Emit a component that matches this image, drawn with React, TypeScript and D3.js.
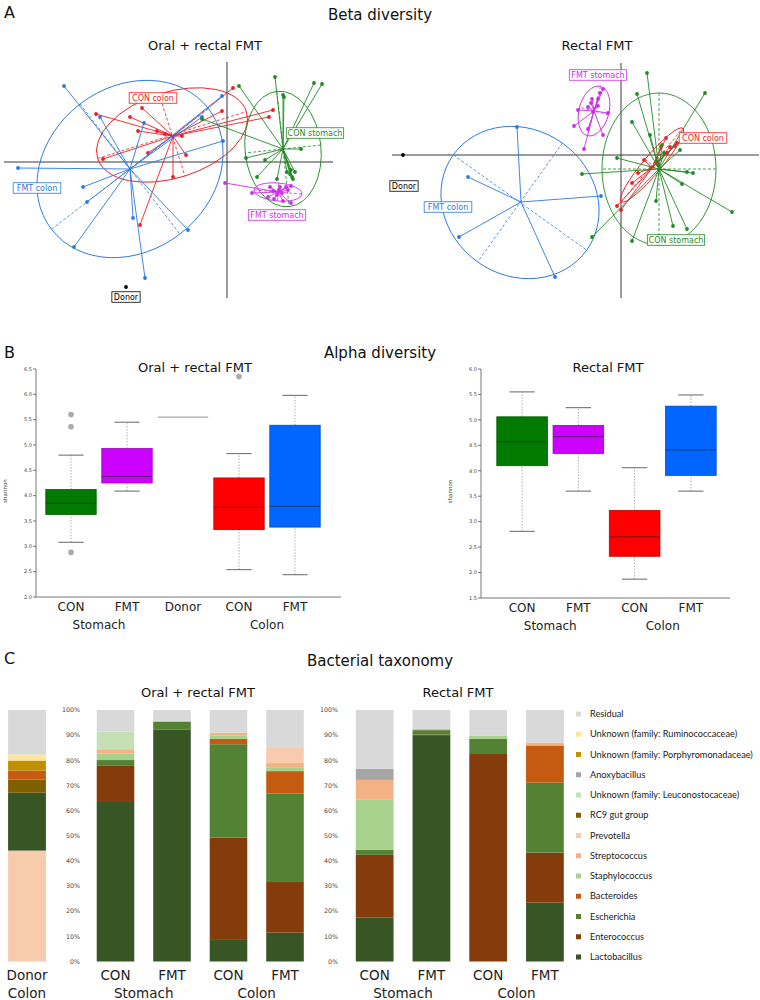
import React from 'react';
import * as d3 from 'd3';

const FONT = '"DejaVu Sans", Verdana, sans-serif';
const LEGEND_FONT = 'Lato, "Open Sans", sans-serif';

type Pt = [number, number];

// ---------------- Panel A: Beta diversity (ordination coordinates) ----------------
const groupNames = ['CON colon', 'FMT colon', 'CON stomach', 'FMT stomach'];
const groupColors = ['#ee1d23', '#2b78e4', '#1f8b24', '#c92fe8'];

// Oral + rectal FMT
const oralXDomain = [-2.23, 1.06];
const oralYDomain = [-1.36, 1.0];
const oralConColonPts: Pt[] = [[0.06, 0.74], [-0.05, 0.51], [0.46, 0.52], [0.42, 0.45], [-1.31, 0.48], [-0.85, 0.54], [-0.97, 0.45], [-0.89, 0.31], [-0.70, 0.31], [-0.62, 0.28], [-0.45, 0.26], [-1.24, 0.03], [-0.79, 0.09], [-0.41, 0.07], [-0.54, -0.15], [-0.87, -0.63]];
const oralFmtColonPts: Pt[] = [[-1.63, 0.76], [-1.27, 0.45], [-0.83, 0.39], [-2.09, -0.06], [-1.44, -0.25], [-1.40, -0.40], [-1.53, -0.85], [-0.94, -0.56], [-0.82, -1.16], [-0.39, -0.68], [-0.05, 0.66], [-0.25, 0.45], [-0.04, 0.21]];
const oralConStomachPts: Pt[] = [[0.48, 0.85], [0.12, 0.76], [0.87, 0.79], [0.95, 0.78], [0.56, 0.67], [0.57, 0.65], [0.74, 0.13], [0.19, 0.04], [0.38, 0.02], [0.30, -0.15], [0.50, -0.17], [0.60, -0.10], [0.63, -0.12], [0.65, -0.15], [0.66, -0.17], [0.68, -0.10], [0.64, -0.08], [-0.25, 0.43]];
const oralFmtStomachPts: Pt[] = [[-0.02, -0.21], [0.25, -0.31], [0.43, -0.25], [0.46, -0.29], [0.53, -0.25], [0.59, -0.25], [0.64, -0.24], [0.61, -0.28], [0.55, -0.31], [0.50, -0.33], [0.41, -0.35], [0.47, -0.37], [0.56, -0.39], [0.64, -0.41], [0.52, -0.28]];
const oralCentres: Pt[] = [[-0.54, 0.26], [-0.97, -0.07], [0.56, 0.13], [0.51, -0.30]];
// ellipse: cx, cy, semi-axis a, semi-axis b, angle (deg)
const oralEllipses = [[-0.55, 0.27, 0.78, 0.43, -17.5], [-0.97, -0.07, 0.99, 0.82, -37.5], [0.56, 0.13, 0.58, 0.38, 84], [0.51, -0.30, 0.24, 0.09, 5]];
const oralLabels: Pt[] = [[-0.74, 0.64], [-1.90, -0.26], [0.88, 0.29], [0.50, -0.53]];
const oralDonor: Pt = [-1.01, -1.25];
const oralDonorLabel: Pt = [-1.01, -1.35];

// Rectal FMT
const rectXDomain = [-2.29, 1.38];
const rectYDomain = [-1.43, 0.92];
const rectConColonPts: Pt[] = [[0.45, 0.17], [0.56, 0.12], [0.40, 0.08], [0.49, 0.08], [0.46, 0.02], [0.54, 0.09], [0.23, -0.05], [0.30, -0.13], [0.17, -0.18], [0.11, -0.28], [-0.04, -0.51], [0.00, -0.55], [0.36, -0.07]];
const rectFmtColonPts: Pt[] = [[-1.04, 0.28], [-1.53, -0.22], [-0.20, -0.41], [-1.62, -0.82], [-0.66, -1.22]];
const rectConStomachPts: Pt[] = [[0.26, 0.82], [0.84, 0.62], [0.16, 0.61], [0.11, 0.33], [-0.04, -0.03], [0.29, 0.20], [-0.39, -0.19], [-0.29, -0.82], [0.11, -0.86], [0.35, -0.46], [0.52, -0.71], [0.66, -0.74], [0.61, -0.29], [0.66, -0.17], [0.72, -0.18], [1.11, -0.57], [0.59, 0.05], [0.43, 0.02], [0.41, 0.10], [0.37, -0.10]];
const rectFmtStomachPts: Pt[] = [[-0.18, 0.66], [-0.21, 0.62], [-0.23, 0.56], [-0.29, 0.56], [-0.30, 0.52], [-0.33, 0.48], [-0.43, 0.45], [-0.13, 0.42], [-0.28, 0.43], [-0.47, 0.29], [-0.33, 0.26], [-0.18, 0.20], [-0.37, 0.06], [-0.23, 0.49]];
const rectCentres: Pt[] = [[0.31, -0.13], [-1.00, -0.47], [0.38, -0.14], [-0.27, 0.44]];
const rectEllipses = [[0.31, -0.10, 0.48, 0.09, -50], [-1.01, -0.475, 0.82, 0.73, 35.5], [0.38, -0.14, 0.76, 0.57, 90], [-0.27, 0.44, 0.255, 0.15, 105]];
const rectLabels: Pt[] = [[0.82, 0.17], [-1.73, -0.52], [0.55, -0.85], [-0.23, 0.80]];
const rectDonor: Pt = [-2.18, 0.0];
const rectDonorLabel: Pt = [-2.17, -0.31];

// ---------------- Panel B: Alpha diversity (shannon) ----------------
const boxColors = ['#007a00', '#cc00ff', '#888888', '#ff0000', '#0066ff'];
const oralBoxCats = ['CON', 'FMT', 'Donor', 'CON', 'FMT'];
// [whiskerLow, q1, median, q3, whiskerHigh]
const oralBoxStats = [[3.08, 3.63, 3.85, 4.12, 4.80], [4.09, 4.25, 4.38, 4.93, 5.45], [5.55, 5.55, 5.55, 5.55, 5.55], [2.54, 3.33, 3.77, 4.35, 4.83], [2.44, 3.38, 3.79, 5.39, 5.98]];
const oralOutliers = [[5.60, 5.36, 2.88], [], [], [6.35], []];
const oralBoxTicks = [2.0, 2.5, 3.0, 3.5, 4.0, 4.5, 5.0, 5.5, 6.0, 6.5];
const oralBoxGroups = ['Stomach', 'Colon'];
const oralBoxGroupSpans = [[0, 1], [3, 4]];

const rectBoxCats = ['CON', 'FMT', 'CON', 'FMT'];
const rectBoxColors = ['#007a00', '#cc00ff', '#ff0000', '#0066ff'];
const rectBoxStats = [[2.81, 4.10, 4.57, 5.06, 5.55], [3.60, 4.34, 4.67, 4.89, 5.24], [1.87, 2.32, 2.70, 3.22, 4.06], [3.60, 3.91, 4.41, 5.27, 5.49]];
const rectOutliers: number[][] = [[], [], [], []];
const rectBoxTicks = [1.5, 2.0, 2.5, 3.0, 3.5, 4.0, 4.5, 5.0, 5.5, 6.0];
const rectBoxGroups = ['Stomach', 'Colon'];
const rectBoxGroupSpans = [[0, 1], [2, 3]];

// ---------------- Panel C: Bacterial taxonomy ----------------
const taxa = ['Lactobacillus', 'Enterococcus', 'Escherichia', 'Bacteroides', 'Staphylococcus', 'Streptococcus', 'Prevotella', 'RC9 gut group', 'Unknown (family: Leuconostocaceae)', 'Anoxybacillus', 'Unknown (family: Porphyromonadaceae)', 'Unknown (family: Ruminococcaceae)', 'Residual'];
const taxaColors = ['#375623', '#843c0c', '#548235', '#c55a11', '#a9d18e', '#f4b183', '#f8cbad', '#7f6000', '#c5e0b4', '#a6a6a6', '#bf9000', '#ffe699', '#d9d9d9'];
const defaultOrder = [0, 1, 2, 3, 4, 5, 6, 7, 8, 9, 10, 11, 12];
const donorOrder = [6, 0, 7, 3, 10, 11, 12];
const donorColon = [23.0, 0, 0, 3.6, 0, 0, 44.1, 5.2, 0, 0, 4.0, 2.4, 17.7];
const oralConStomach = [63.8, 14.2, 2.1, 0, 2.6, 1.7, 0, 0, 7.0, 0, 0, 0, 8.6];
const oralFmtStomach = [92.3, 0, 3.0, 0, 0, 0.4, 0, 0, 0, 0, 0, 0, 4.3];
const oralConColon = [8.9, 40.4, 37.1, 2.1, 1.3, 1.2, 0, 0, 0, 0, 0, 0, 9.0];
const oralFmtColon = [11.5, 20.1, 35.2, 8.9, 1.3, 1.9, 6.0, 0, 0, 0, 0, 0, 15.1];
const rectConStomach = [17.5, 24.9, 2.0, 0, 19.9, 7.9, 0, 0, 0, 4.4, 0, 0, 23.4];
const rectFmtStomach = [89.7, 0.5, 1.8, 0, 0, 0.5, 0, 0, 0, 0, 0, 0, 7.5];
const rectConColon = [0, 82.5, 6.0, 0, 1.2, 0, 0, 0, 0, 0, 0, 0, 10.3];
const rectFmtColon = [23.4, 19.9, 27.8, 14.8, 0, 1.1, 0, 0, 0, 0, 0, 0, 13.0];
const barCats = ['CON', 'FMT', 'CON', 'FMT'];
const barGroups = ['Stomach', 'Colon'];
const pctTicks = [0, 10, 20, 30, 40, 50, 60, 70, 80, 90, 100];

// ---------------- Components ----------------
function LabelBox({ x, y, text, color }: { x: number; y: number; text: string; color: string }) {
  const w = text.length * 4.85 + 4;
  const h = 10.5;
  return (
    <g>
      <rect x={x - w / 2} y={y - h / 2} width={w} height={h} fill="#fff" stroke={color} strokeWidth={0.8} />
      <text x={x} y={y + 3} textAnchor="middle" fontSize={8} fill={color} fontFamily={FONT}>{text}</text>
    </g>
  );
}

function Ordination(props: any) {
  const { xDomain, yDomain, xRange, yRange, pts, centres, ellipses, labels, donor, donorLabel } = props;
  const x = d3.scaleLinear().domain(xDomain).range(xRange);
  const y = d3.scaleLinear().domain(yDomain).range(yRange);
  const k = Math.abs(x(1) - x(0));
  const x0 = x(0), y0 = y(0);
  return (
    <g>
      <line x1={xRange[0]} x2={xRange[1]} y1={y0} y2={y0} stroke="#222" strokeWidth={0.9} />
      <line x1={x0} x2={x0} y1={yRange[0]} y2={yRange[1]} stroke="#222" strokeWidth={0.9} />
      {groupNames.map((name, gi) => {
        const [ecx, ecy, a, b, ang] = ellipses[gi];
        const cx = x(ecx), cy = y(ecy);
        const t = (ang * Math.PI) / 180;
        const ax = [Math.cos(t) * a * k, Math.sin(t) * a * k];
        const bx = [-Math.sin(t) * b * k, Math.cos(t) * b * k];
        const c = [x(centres[gi][0]), y(centres[gi][1])];
        const col = groupColors[gi];
        return (
          <g key={name}>
            <ellipse cx={cx} cy={cy} rx={a * k} ry={b * k} transform={`rotate(${ang} ${cx} ${cy})`} fill="none" stroke={col} strokeWidth={0.9} />
            <line x1={cx - ax[0]} y1={cy - ax[1]} x2={cx + ax[0]} y2={cy + ax[1]} stroke={col} strokeWidth={0.8} strokeDasharray="3,2" />
            <line x1={cx - bx[0]} y1={cy - bx[1]} x2={cx + bx[0]} y2={cy + bx[1]} stroke={col} strokeWidth={0.8} strokeDasharray="3,2" />
            {pts[gi].map((p: Pt, i: number) => (
              <line key={'l' + i} x1={c[0]} y1={c[1]} x2={x(p[0])} y2={y(p[1])} stroke={col} strokeWidth={0.9} />
            ))}
            {pts[gi].map((p: Pt, i: number) => (
              <circle key={'c' + i} cx={x(p[0])} cy={y(p[1])} r={1.9} fill={col} />
            ))}
          </g>
        );
      })}
      <circle cx={x(donor[0])} cy={y(donor[1])} r={1.9} fill="#000" />
      {groupNames.map((name, gi) => (
        <LabelBox key={'lb' + gi} x={x(labels[gi][0])} y={y(labels[gi][1])} text={name} color={groupColors[gi]} />
      ))}
      <LabelBox x={x(donorLabel[0])} y={y(donorLabel[1])} text="Donor" color="#000" />
    </g>
  );
}

function BoxPlot(props: any) {
  const { cats, stats, outliers, colors, yDomain, ticks, axisX, axisRight, bandRange, yRange, groups, spans, ylabX } = props;
  const y = d3.scaleLinear().domain(yDomain).range(yRange);
  const xb = d3.scaleBand<number>().domain(d3.range(cats.length)).range(bandRange);
  const bw = xb.bandwidth() * 0.9;
  const capW = bw * 0.5;
  const cx = (i: number) => (xb(i) as number) + xb.bandwidth() / 2;
  return (
    <g fontFamily={FONT}>
      <line x1={axisX} x2={axisX} y1={y(yDomain[1])} y2={y(yDomain[0])} stroke="#555" strokeWidth={0.8} />
      <line x1={axisX} x2={axisRight} y1={y(yDomain[0])} y2={y(yDomain[0])} stroke="#555" strokeWidth={0.8} />
      {ticks.map((t: number) => (
        <g key={t}>
          <line x1={axisX - 3} x2={axisX} y1={y(t)} y2={y(t)} stroke="#555" strokeWidth={0.8} />
          <text x={axisX - 4} y={y(t) + 1.8} textAnchor="end" fontSize={5} fill="#444">{d3.format('.1f')(t)}</text>
        </g>
      ))}
      <text transform={`translate(${ylabX},${(yRange[0] + yRange[1]) / 2 + 8}) rotate(-90)`} textAnchor="middle" fontSize={5.5} fill="#444">shannon</text>
      {stats.map((s: number[], i: number) => {
        const c = cx(i);
        if (s[1] === s[3]) {
          return <line key={i} x1={c - bw / 2} x2={c + bw / 2} y1={y(s[2])} y2={y(s[2])} stroke={colors[i]} strokeWidth={0.9} />;
        }
        const col = d3.color(colors[i]) as any;
        return (
          <g key={i}>
            <line x1={c} x2={c} y1={y(s[0])} y2={y(s[1])} stroke="#999" strokeWidth={0.8} strokeDasharray="1.5,1.5" />
            <line x1={c} x2={c} y1={y(s[3])} y2={y(s[4])} stroke="#999" strokeWidth={0.8} strokeDasharray="1.5,1.5" />
            <line x1={c - capW / 2} x2={c + capW / 2} y1={y(s[0])} y2={y(s[0])} stroke="#555" strokeWidth={0.9} />
            <line x1={c - capW / 2} x2={c + capW / 2} y1={y(s[4])} y2={y(s[4])} stroke="#555" strokeWidth={0.9} />
            <rect x={c - bw / 2} y={y(s[3])} width={bw} height={y(s[1]) - y(s[3])} fill={colors[i]} stroke={col.darker(0.8).toString()} strokeWidth={0.8} />
            <line x1={c - bw / 2} x2={c + bw / 2} y1={y(s[2])} y2={y(s[2])} stroke="#222" strokeWidth={0.8} opacity={0.8} />
            {outliers[i].map((o: number, j: number) => (
              <circle key={j} cx={c} cy={y(o)} r={2.8} fill="#aaa" />
            ))}
          </g>
        );
      })}
      {cats.map((c: string, i: number) => (
        <text key={i} x={cx(i)} y={y(yDomain[0]) + 14} textAnchor="middle" fontSize={12} fill="#222">{c}</text>
      ))}
      {groups.map((g: string, i: number) => (
        <text key={g} x={(cx(spans[i][0]) + cx(spans[i][1])) / 2} y={y(yDomain[0]) + 32} textAnchor="middle" fontSize={12} fill="#222">{g}</text>
      ))}
    </g>
  );
}

function Stacks({ samples, bandRange, y, barFrac, order }: any) {
  const xb = d3.scaleBand<number>().domain(d3.range(samples.length)).range(bandRange);
  const bw = xb.bandwidth() * barFrac;
  const ord: number[] = order || defaultOrder;
  return (
    <g>
      {samples.map((vals: number[], i: number) => {
        const ordered = ord.map((j) => vals[j]);
        const cum = [0, ...Array.from(d3.cumsum(ordered))];
        const cx = (xb(i) as number) + xb.bandwidth() / 2;
        return (
          <g key={i}>
            {ord.map((j, k) => vals[j] > 0 ? (
              <rect key={j} x={cx - bw / 2} width={bw} y={y(cum[k + 1])} height={y(cum[k]) - y(cum[k + 1])} fill={taxaColors[j]} />
            ) : null)}
          </g>
        );
      })}
    </g>
  );
}

export default function App() {
  const barY = d3.scaleLinear().domain([0, 100]).range([961.5, 710]);
  const oralBand: [number, number] = [87.25, 313.25];
  const rectBand: [number, number] = [346.3, 573.3];
  const bandCenters = (r: [number, number], n: number) => {
    const b = d3.scaleBand<number>().domain(d3.range(n)).range(r);
    return d3.range(n).map((i) => (b(i) as number) + b.bandwidth() / 2);
  };
  const oc = bandCenters(oralBand, 4);
  const rc = bandCenters(rectBand, 4);
  const legendTaxa = taxa.slice().reverse();
  const legendColors = taxaColors.slice().reverse();

  return (
    <svg width={760} height={1000} style={{ position: 'absolute', left: 0, top: 0, background: '#fff' }} fontFamily={FONT}>
      <rect width={760} height={1000} fill="#fff" />
      {/* Panel A */}
      <text x={4} y={18} fontSize={16} fill="#111">A</text>
      <text x={380} y={20} textAnchor="middle" fontSize={15} fill="#111">Beta diversity</text>
      <text x={205} y={50} textAnchor="middle" fontSize={13} fill="#111">Oral + rectal FMT</text>
      <text x={597} y={50} textAnchor="middle" fontSize={13} fill="#111">Rectal FMT</text>
      <Ordination xDomain={oralXDomain} yDomain={oralYDomain} xRange={[4, 333]} yRange={[298, 62]}
        pts={[oralConColonPts, oralFmtColonPts, oralConStomachPts, oralFmtStomachPts]}
        centres={oralCentres} ellipses={oralEllipses} labels={oralLabels} donor={oralDonor} donorLabel={oralDonorLabel} />
      <Ordination xDomain={rectXDomain} yDomain={rectYDomain} xRange={[392, 759]} yRange={[298, 63]}
        pts={[rectConColonPts, rectFmtColonPts, rectConStomachPts, rectFmtStomachPts]}
        centres={rectCentres} ellipses={rectEllipses} labels={rectLabels} donor={rectDonor} donorLabel={rectDonorLabel} />

      {/* Panel B */}
      <text x={4} y={358} fontSize={16} fill="#111">B</text>
      <text x={380} y={358} textAnchor="middle" fontSize={15} fill="#111">Alpha diversity</text>
      <text x={195} y={372} textAnchor="middle" fontSize={13} fill="#111">Oral + rectal FMT</text>
      <text x={608} y={372} textAnchor="middle" fontSize={13} fill="#111">Rectal FMT</text>
      <BoxPlot cats={oralBoxCats} stats={oralBoxStats} outliers={oralOutliers} colors={boxColors} yDomain={[2, 6.5]} ticks={oralBoxTicks}
        axisX={36} axisRight={341} bandRange={[43, 323]} yRange={[597, 369]} groups={oralBoxGroups} spans={oralBoxGroupSpans} ylabX={7} />
      <BoxPlot cats={rectBoxCats} stats={rectBoxStats} outliers={rectOutliers} colors={rectBoxColors} yDomain={[1.5, 6]} ticks={rectBoxTicks}
        axisX={481} axisRight={730} bandRange={[494, 719]} yRange={[598, 369]} groups={rectBoxGroups} spans={rectBoxGroupSpans} ylabX={452} />

      {/* Panel C */}
      <text x={4} y={664} fontSize={16} fill="#111">C</text>
      <text x={380} y={666} textAnchor="middle" fontSize={15} fill="#111">Bacterial taxonomy</text>
      <text x={198} y={697} textAnchor="middle" fontSize={13} fill="#111">Oral + rectal FMT</text>
      <text x={458} y={697} textAnchor="middle" fontSize={13} fill="#111">Rectal FMT</text>
      <Stacks samples={[donorColon]} bandRange={[-1.25, 55.25]} y={barY} barFrac={0.67} order={donorOrder} />
      <Stacks samples={[oralConStomach, oralFmtStomach, oralConColon, oralFmtColon]} bandRange={oralBand} y={barY} barFrac={0.665} />
      <Stacks samples={[rectConStomach, rectFmtStomach, rectConColon, rectFmtColon]} bandRange={rectBand} y={barY} barFrac={0.665} />
      {pctTicks.map((t) => (
        <g key={t}>
          <text x={80} y={barY(t) + 2.2} textAnchor="end" fontSize={6.3} fill="#444">{t + '%'}</text>
          <text x={338} y={barY(t) + 2.2} textAnchor="end" fontSize={6.3} fill="#444">{t + '%'}</text>
        </g>
      ))}
      <text x={27} y={980} textAnchor="middle" fontSize={13.5} fill="#222">Donor</text>
      <text x={27} y={998} textAnchor="middle" fontSize={13.5} fill="#222">Colon</text>
      {barCats.map((c, i) => (
        <g key={i}>
          <text x={oc[i]} y={980} textAnchor="middle" fontSize={13.5} fill="#222">{c}</text>
          <text x={rc[i]} y={980} textAnchor="middle" fontSize={13.5} fill="#222">{c}</text>
        </g>
      ))}
      {barGroups.map((g, i) => (
        <g key={g}>
          <text x={(oc[i * 2] + oc[i * 2 + 1]) / 2} y={998} textAnchor="middle" fontSize={13.5} fill="#222">{g}</text>
          <text x={(rc[i * 2] + rc[i * 2 + 1]) / 2} y={998} textAnchor="middle" fontSize={13.5} fill="#222">{g}</text>
        </g>
      ))}
      {legendTaxa.map((t, i) => (
        <g key={t} transform={`translate(576,${714 + i * 20.25})`}>
          <rect x={0} y={-2.5} width={5} height={5} fill={legendColors[i]} />
          <text x={14} y={3} fontSize={9.2} fill="#222" fontFamily={LEGEND_FONT}>{t}</text>
        </g>
      ))}
    </svg>
  );
}
